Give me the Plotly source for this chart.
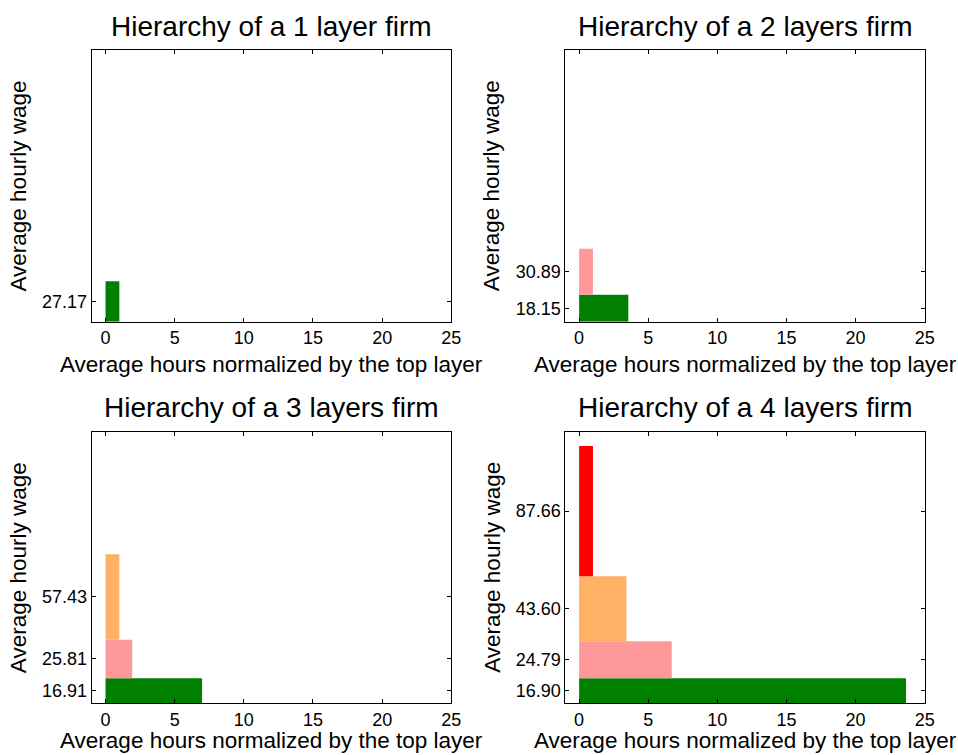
import numpy as np
import plotly.graph_objects as go

# Per-firm layer data, listed from the bottom layer upward
firm_titles = [
    "Hierarchy of a 1 layer firm",
    "Hierarchy of a 2 layers firm",
    "Hierarchy of a 3 layers firm",
    "Hierarchy of a 4 layers firm",
]
wages_1 = [27.17]
hours_1 = [1.0]
wages_2 = [18.15, 30.89]
hours_2 = [3.56, 1.0]
wages_3 = [16.91, 25.81, 57.43]
hours_3 = [6.98, 1.93, 1.0]
wages_4 = [16.90, 24.79, 43.60, 87.66]
hours_4 = [23.65, 6.70, 3.42, 1.0]

x_ticks = [0, 5, 10, 15, 20, 25]
x_label = "Average hours normalized by the top layer"
y_label = "Average hourly wage"

layer_colors = ["#007f00", "#ff9999", "#ffb266", "#ff0000"]

W, H = 958, 755
FONT = "Liberation Sans, Arial, Helvetica, sans-serif"

# plot boxes in pixels: (left, right, top, bottom)
boxes = [
    (91.7, 451.3, 50.0, 321.7),
    (565.3, 924.7, 50.0, 321.7),
    (91.7, 451.3, 431.7, 703.3),
    (565.3, 924.7, 431.7, 703.3),
]

wages_all = [wages_1, wages_2, wages_3, wages_4]
hours_all = [hours_1, hours_2, hours_3, hours_4]


def px_x(p):
    return p / W


def px_y(p):
    return 1 - p / H


fig = go.Figure()
layout = dict(
    width=W,
    height=H,
    autosize=False,
    margin=dict(l=0, r=0, t=0, b=0, pad=0),
    paper_bgcolor="white",
    plot_bgcolor="white",
    showlegend=False,
    barmode="overlay",
    font=dict(family=FONT, size=18, color="black"),
)
annotations = []

for i, (wages, hours) in enumerate(zip(wages_all, hours_all)):
    k = "" if i == 0 else str(i + 1)
    wages = np.array(wages)
    centers = np.cumsum(wages) - wages / 2
    fig.add_trace(
        go.Bar(
            orientation="h",
            x=hours,
            y=centers,
            width=wages,
            base=0,
            marker=dict(color=layer_colors[: len(wages)], line=dict(width=0)),
            xaxis="x" + k,
            yaxis="y" + k,
            hoverinfo="skip",
        )
    )
    l, r, t, b = boxes[i]
    common = dict(
        showline=True,
        linecolor="black",
        linewidth=1,
        mirror="ticks",
        ticks="inside",
        ticklen=4,
        tickcolor="black",
        tickwidth=1,
        showgrid=False,
        zeroline=False,
        automargin=False,
        tickfont=dict(size=18, family=FONT, color="black"),
    )
    layout["xaxis" + k] = dict(
        domain=[px_x(l), px_x(r)],
        anchor="y" + k,
        range=[-1, 25],
        tickvals=x_ticks,
        ticktext=[str(v) for v in x_ticks],
        **common,
    )
    layout["yaxis" + k] = dict(
        domain=[px_y(b), px_y(t)],
        anchor="x" + k,
        range=[0, 182.5],
        tickvals=list(centers),
        ticktext=[f"{w:.2f}" for w in wages],
        **common,
    )
    cx = (l + r) / 2
    cy = (t + b) / 2
    annotations.append(dict(
        text=firm_titles[i], xref="paper", yref="paper",
        x=px_x(cx), y=px_y(t - 24), xanchor="center", yanchor="middle",
        showarrow=False, font=dict(size=28, family=FONT, color="black"),
    ))
    if i < 2:
        xl_pos = dict(y=px_y(b + 43), yanchor="middle")
    else:
        xl_pos = dict(y=0, yanchor="bottom")
    annotations.append(dict(
        text=x_label, xref="paper", yref="paper",
        x=px_x(cx), xanchor="center",
        showarrow=False, font=dict(size=22.5, family=FONT, color="black"),
        **xl_pos,
    ))
    annotations.append(dict(
        text=y_label, xref="paper", yref="paper", textangle=-90,
        x=px_x(l - 73), y=px_y(cy), xanchor="center", yanchor="middle",
        showarrow=False, font=dict(size=22.5, family=FONT, color="black"),
    ))

layout["annotations"] = annotations
fig.update_layout(**layout)
fig.write_html("out.html")
